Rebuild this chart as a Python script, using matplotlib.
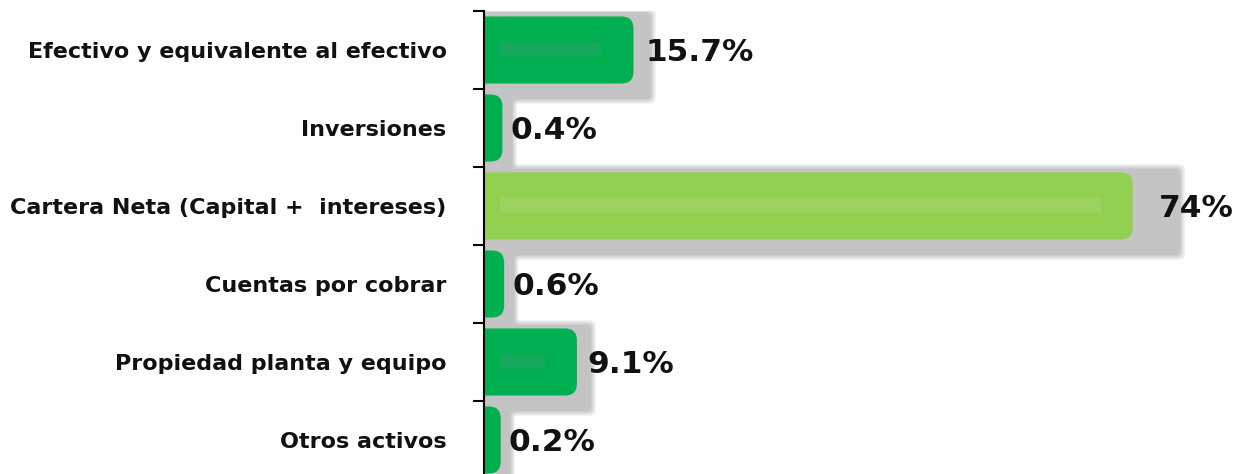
import numpy as np
import matplotlib.pyplot as plt
from matplotlib.patches import FancyBboxPatch

# Data
categorias = [
    "Efectivo y equivalente al efectivo",
    "Inversiones",
    "Cartera Neta (Capital +  intereses)",
    "Cuentas por cobrar",
    "Propiedad planta y equipo",
    "Otros activos",
]
valores = [15.7, 0.4, 74.0, 0.6, 9.1, 0.2]
etiquetas = ["15.7%", "0.4%", "74%", "0.6%", "9.1%", "0.2%"]
colores = ["#00B050", "#00B050", "#92D050", "#00B050", "#00B050", "#00B050"]
franjas = ["#14A95C", "#14A95C", "#9CD35E", "#14A95C", "#14A95C", "#14A95C"]

W, H = 1247, 474
fig = plt.figure(figsize=(W / 100, H / 100), dpi=100)
ax_left, ax_top, row_px = 484, 11, 78
n = len(categorias)
ax = fig.add_axes([ax_left / W, (H - ax_top - n * row_px) / H,
                   (W - ax_left) / W, n * row_px / H])

xmax = 89.1
ax.set_xlim(0, xmax)
ax.set_ylim(n - 0.5, -0.5)
px_x = (W - ax_left) / xmax      # pixels per x unit
px_y = row_px                    # pixels per y unit

def dx(p):
    return p / px_x

def dy(p):
    return p / px_y

bar_h = 0.86
cap = dx(15)  # rounded end extension
for i, (v, c, fc) in enumerate(zip(valores, colores, franjas)):
    end = v + cap
    y0 = i - bar_h / 2
    # soft shadow
    s_end = end + v * 0.06 + dx(10)
    for k, a in [(4, 0.35), (2, 0.5), (0, 1.0)]:
        sh = FancyBboxPatch((-dx(20), y0 - dy(4) - dy(k)), s_end + dx(20) + dx(k),
                            bar_h + dy(20) + 2 * dy(k),
                            boxstyle="round,pad=0,rounding_size=%f" % dx(6),
                            mutation_aspect=px_x / px_y,
                            fc="#C4C4C4", ec="none", alpha=a, zorder=1 + i * 3)
        ax.add_patch(sh)
    bar = FancyBboxPatch((-dx(20), y0), end + dx(20), bar_h,
                         boxstyle="round,pad=0,rounding_size=%f" % dx(12),
                         mutation_aspect=px_x / px_y,
                         fc=c, ec="none", zorder=2 + i * 3)
    ax.add_patch(bar)
    # inner highlight stripe
    s0, s1 = dx(16), end - dx(32)
    if s1 > s0:
        ax.add_patch(plt.Rectangle((s0, i - dy(8)), s1 - s0, dy(15),
                                   fc=fc, ec="none", zorder=3 + i * 3))
    ax.text(end + dx(8) + dx(0.25 * v), i + dy(3), etiquetas[i], ha="left", va="center",
            fontsize=22.5, fontweight="bold", color="#111111", zorder=30)

for s in ["top", "right", "bottom"]:
    ax.spines[s].set_visible(False)
ax.spines["left"].set_linewidth(1.5)
ax.spines["left"].set_zorder(40)
ax.set_xticks([])
ax.set_yticks(range(n))
ax.set_yticklabels(categorias, fontsize=16, fontweight="bold", color="#111111")
ax.tick_params(axis="y", which="major", length=0, pad=27)
ax.set_yticks(np.arange(-0.5, n, 1), minor=True)
ax.tick_params(axis="y", which="minor", length=8, width=1.5, direction="out")

fig.savefig("out.png", dpi=100)
